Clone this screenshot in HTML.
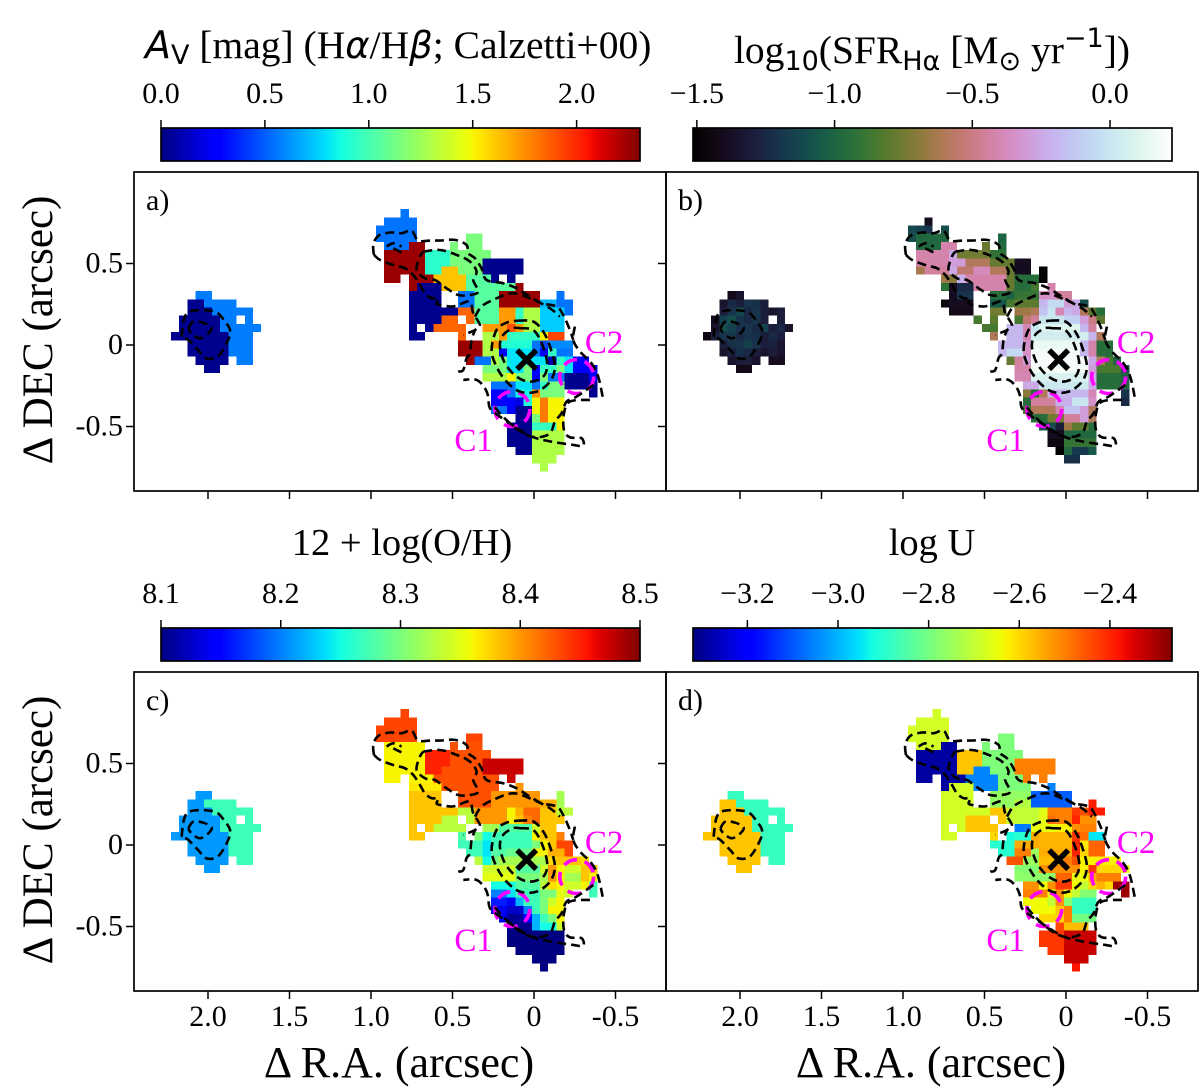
<!DOCTYPE html>
<html lang="en">
<head>
<meta charset="utf-8">
<title>Spatially resolved emission-line maps</title>
<style>
html,body{margin:0;padding:0;background:#fff;}
#figure{display:block;width:1200px;height:1090px;background:#fff;font-family:"Liberation Serif","DejaVu Serif",serif;}
.sans{font-family:"DejaVu Sans",sans-serif;}
</style>
</head>
<body>
<svg id="figure" xmlns="http://www.w3.org/2000/svg" width="1200" height="1090" viewBox="0 0 1200 1090">
<defs id="gradients"></defs>
<text x="145" y="58" font-size="39.5"><tspan class="sans" font-style="italic" font-size="38">A</tspan><tspan class="sans" font-size="27" dy="6">V</tspan><tspan dy="-6"> [mag] (H</tspan><tspan class="sans" font-style="italic" font-size="37">α</tspan><tspan>/H</tspan><tspan class="sans" font-style="italic" font-size="37">β</tspan><tspan>; Calzetti+00)</tspan></text>
<text x="932" y="63" font-size="39.5" text-anchor="middle"><tspan>log</tspan><tspan class="sans" font-size="27" dy="7">10</tspan><tspan dy="-7">(SFR</tspan><tspan class="sans" font-size="27" dy="7">Hα</tspan><tspan dy="-7"> [M</tspan><tspan class="sans" font-size="27" dy="7">⊙</tspan><tspan dy="-7"> yr</tspan><tspan class="sans" font-size="27" dy="-16">−1</tspan><tspan dy="16">])</tspan></text>
<text x="402" y="555" font-size="38.5" text-anchor="middle">12 + log(O/H)</text>
<text x="932" y="555" font-size="38.5" text-anchor="middle">log U</text>
<text x="0" y="0" font-size="43" text-anchor="middle" transform="translate(52,330) rotate(-90)">Δ DEC (arcsec)</text>
<text x="0" y="0" font-size="43" text-anchor="middle" transform="translate(52,830) rotate(-90)">Δ DEC (arcsec)</text>
<text x="399" y="1077" font-size="44" text-anchor="middle">Δ R.A. (arcsec)</text>
<text x="931" y="1077" font-size="44" text-anchor="middle">Δ R.A. (arcsec)</text>
</svg>
<script>
// ---------- axis ticks ----------
const raTicks = [2, 1.5, 1, 0.5, 0, -0.5];
const raTickLabels = ['2.0', '1.5', '1.0', '0.5', '0', '-0.5'];
const decTicks = [0.5, 0, -0.5];
const decTickLabels = ['0.5', '0', '-0.5'];

// ---------- colorbar ranges and ticks ----------
const avRange = [0, 2.305];
const avTicks = [0, 0.5, 1, 1.5, 2];
const avTickLabels = ['0.0', '0.5', '1.0', '1.5', '2.0'];
const sfrRange = [-1.514, 0.225];
const sfrTicks = [-1.5, -1, -0.5, 0];
const sfrTickLabels = ['−1.5', '−1.0', '−0.5', '0.0'];
const ohRange = [8.1, 8.5];
const ohTicks = [8.1, 8.2, 8.3, 8.4, 8.5];
const ohTickLabels = ['8.1', '8.2', '8.3', '8.4', '8.5'];
const logURange = [-3.32, -2.263];
const logUTicks = [-3.2, -3, -2.8, -2.6, -2.4];
const logUTickLabels = ['−3.2', '−3.0', '−2.8', '−2.6', '−2.4'];

// ---------- spaxel maps: each entry is [row, firstColumn, value, value, ...]; _ marks a masked spaxel ----------
const _ = null;
const avRows = [
[10,3,.57,.57],[11,2,.03,.03,.57,.57,.57,.57],[12,2,.03,.03,.03,.57,.57,.57,.57,.57],
[13,1,.03,.03,.03,.03,.03,.57,.57,_,.57],[14,1,.03,.03,.03,.03,.03,.57,.57,.57,.57,.57],
[15,0,.03,.03,.03,.03,.03,.03,.03,.57,.57,.57],[16,2,.03,.03,.03,.03,.03,.57,.57,.57],
[17,2,.03,.03,.03,.03,.03,.57,.57,.57],[18,3,.03,.03,.03,.03,_,.57,.57],[19,4,.03,.03],
[0,28,.55],[1,26,.55,.55,.55,.55],[2,25,.55,.55,.55,.55,.55],[3,25,.55,.55,.55,.55,.55],[3,36,1.15,1.15],
[4,26,.55,.55,.55,2.25,2.25],[4,34,1.15],[4,36,1.15,1.15],
[5,26,2.25,2.25,2.25,2.25,2.25,.93,.93,.93,1.15,1.15,1.15,1.15,1.15],
[6,26,2.25,2.25,2.25,2.25,2.25,.93,.93,.93,1.15,1.15,1.15,1.15,.03,.03,.03,.03,.03],
[7,26,2.25,2.25,2.25,2.25,2.25,.93,.93,1.62,1.62,1.15,1.15,1.15,.03,.03,.03,.03,.03],
[8,26,2.25,2.25],[8,29,2.25,2.25,2.25,1.62,1.62,1.62,1.62,1.05,1.05,1.05,.03],[8,41,.03],
[9,29,2.25,.03,.03,.03,1.62,1.62,1.62,1.05,1.05,1.05,1.05,1.05,1.05,2.25],
[10,29,.03,.03,.03,.03,_,_,.55,.55,1.05,1.05,1.05,2.25,2.25,2.25,2.25,2.25],[10,47,.55],
[11,29,.03,.03,.03,.03,_,_,.55,.55,1.05,1.05,1.05,2.25,2.25,2.25,2.25,2.25,.7,.7,.55,.55],
[12,29,.03,.03,.03,.03,.03,.03,1.85,1.85,1.05,1.05,1.05,1.72,1.72,.95,1.3,1.3,.75,.75,.75,.55],
[13,29,.03,.03,.03,.03,1.85,1.85,_,1.85,1.05,1.05,1.05,1.72,1.72,.95,1.3,1.3,.75,.75,.75],
[14,29,.03,_,.03,1.85,1.85,1.85,1.85,_,_,1.72,1.72,1.72,1.9,1.72,1.3,1.3,.75,.75,.75],
[15,29,.03,.03],[15,35,1.85,_,_,1.3,1.3,1.72,.95,.95,.95,.95,1.5,1.93,1.93],
[16,35,2.25,2.25,2.25,1.3,1.72,.9,.9,.9,.9,.55,.45,.6,.6,.6],
[17,35,2.25,2.25,2.25,1.3,1.3,.25,.8,.8,.8,.55,.25,.95,.55,.55],
[18,36,2.25,.55,.55,1.3,1.15,.8,.8,.8,.8,.8,.1,.95,.8,.25,.25],
[19,38,1.15,1.15,1.15,.8,.8,1.15,.25,.95,.95,1.15,.8,.25,.25,.25],
[20,38,1.3,1.3,1.3,1.5,1.15,1.15,.25,1.15,.55,.55,.03,.03,.03,.25],
[21,39,.55,.55,.55,.8,.8,.55,.95,1.15,1.15,.03,.03,.03,.03],
[22,39,.25,.25,.55,.85,.85,1.75,1.15,1.15,1.15],[22,51,.03],
[23,39,.25,.25,.25,.2,.9,1.5,1.8,1.5,1.5],
[24,39,.55,.55,.25,.03,.03,1.5,1.8,1.5,1.5],
[25,42,.03,.03,1.15,1.8,1.5,1.5],
[26,41,.03,.03,.03,.95,.95,.95,1.5],
[27,41,.03,.03,.03,1.3,1.3,1.3,1.3],[28,41,.03,.03,.03,1.3,1.3,1.3,1.3],
[29,42,.03,.03,1.3,1.3,1.3,1.3],[30,44,1.3,1.3,1.3],[31,45,1.3]
];
const sfrRows = [
[10,3,-1.42,-1.35],[11,2,-1.35,-1.25,-1.3,-1.2,-1.22,-1.3],[12,2,-1.3,-1.2,-1.12,-1.25,-1.2,-1.3,-1.35,-1.3],
[13,1,-1.4,-1.15,-1.1,-1.2,-1.25,-1.2,-1.3,_,-1.3],[14,1,-1.35,-1.1,-1.15,-1.22,-1.2,-1.25,-1.15,-1.3,-1.25,-1.35],
[15,0,-1.45,-1.3,-1.2,-1.18,-1.25,-1.2,-1.22,-1.3,-1.25,-1.3],[16,2,-1.3,-1.22,-1.2,-1.15,-1.2,-1.3,-1.28,-1.35],
[17,2,-1.35,-1.28,-1.22,-1.25,-1.3,-1.35,-1.3,-1.35],[18,3,-1.35,-1.3,-1.3,-1.35,_,-1.4,-1.4],[19,4,-1.42,-1.42],
[1,27,-1.4],[2,25,-1.12,-1.15,-1.2],[2,29,-1.1],[3,25,-1.1,-.98,-.98,-.98,-.98],[3,36,-1],
[4,26,-.98,-.98,-.98,-.42,-.42],[4,34,-.78],[4,36,-.97],
[5,26,-.42,-.42,-.42,-.42,-.25,-.75,-.75,-.75,-.75,-.92,-.92],
[6,26,-.42,-.42,-.42,-.42,-.3,-.3,-.6,-.6,-.6,-.78,-.78,-.78,-1.4,-1.4],
[7,26,-.62,-.45,-.45,-.45,-.25,-.55,-.55,-.38,-.38,-.6,-.6,-.78,-1.4,-1.4],[7,41,-1.5],
[8,29,-.65,-.7,-.22,-.42,-.42,-.42,-.42,-.42,-.78,-.95,-.95,-.95,-1.5],
[9,29,-.92,-1.4,-1.25,-1.25,-.42,-.42,-.42,-.42,-.78,-.95,-.95,-.85],[9,42,-.42],
[10,30,-1.4,-1.2,-1.2,_,_,-.95,-.95,-1,-.9,-.9,-.9,-.35,-.35,-.45,-.45],
[11,29,-1.45,-1.4,-1.4,-1.4,_,_,-1.05,-1.05,-.85,-.8,-.8,-.8,-.2,-.05,-.05,-.3,-.25,-1.1],
[12,30,-1.42,-1.42,-1.42],[12,35,-.75,-.75],[12,38,-.65,-.65,-.6,-.15,0,-.4,-.2,-.25,-.6,-.8,-.95],
[13,33,-.85,_,-.8],[13,38,-.85,-.55,-.45,0,0,0,-.1,-.1,-.3,-.5,-.8],
[14,34,-.85,-.85],[14,37,-.2,-.2,-.4,0,.1,.1,.1,.1,.1,-.2,-.45],
[15,35,-.6],[15,37,-.2,-.2,-.4,.05,.05,.05,.05,.05,.05,.05,-.2,-.6],
[16,36,-.2,-.2,-.2,-.35,.15,.15,.15,.15,.15,.15,-.2,-.42,-.95,-.95],
[17,36,-.2,-.05,-.05,-.35,.18,.18,.18,.18,.18,.18,-.2,-.42,-.95,-.95],
[18,37,-.78,-.45,-.3,.2,.2,.2,.2,.2,.2,.2,-.25,-.6,-.85,-1],
[19,38,-.42,-.42,.18,.18,.18,.18,.18,.18,.18,-.3,-.85,-.85,-.85,-1.1],
[20,38,-.4,-.4,.08,.08,.08,.08,.08,.08,.08,-.25,-.95,-.95,-.95,-1],
[21,39,-.25,-.25,.02,.02,.02,.02,.02,.02,-.25,-.95,-.95,-.95,-1],
[22,39,-.7,-.95,-.6,-.2,-.2,-.2,-.2,-.2,-.4],[22,51,-1.2],
[23,39,-.95,-.45,-.45,-.45,-.22,-.22,0,0,-.35],[23,51,-1.25],
[24,39,-.85,-.6,-.6,-.6,-.4,-.15,-.15,-.3,-.6],
[25,40,-.95,-.95,-.75,-.75,-.45,-.45,-.3,-.6],
[26,41,-1.1,-1.1,-1.3,-.65,-.8,-.8,-.95],
[27,42,-1.4,-1.4,-.98,-.98,-.98,-.98],[28,42,-1.45,-1.45,-.9,-.9,-.9,-.9],
[29,43,-1.5,-.98,-1.18,-1.18,-1.05],[30,44,-1.22,-1.22]
];
const ohRows = [
[10,3,8.21,8.21],[11,2,8.21,8.21,8.27,8.27,8.27,8.27],[12,2,8.21,8.21,8.21,8.27,8.27,8.27,8.27,8.27],
[13,1,8.21,8.21,8.21,8.21,8.21,8.27,8.27,_,8.27],[14,1,8.21,8.21,8.21,8.21,8.21,8.27,8.27,8.27,8.27,8.27],
[15,0,8.21,8.21,8.21,8.21,8.21,8.21,8.21,8.27,8.27,8.27],[16,2,8.21,8.21,8.21,8.21,8.21,8.27,8.27,8.27],
[17,2,8.21,8.21,8.21,8.21,8.21,8.27,8.27,8.27],[18,3,8.21,8.21,8.21,8.21,_,8.27,8.27],[19,4,8.21,8.21],
[0,28,8.435],[1,26,8.435,8.435,8.435,8.435],[2,25,8.435,8.435,8.435,8.435,8.435],[3,25,8.435,8.435,8.435,8.435,8.435],[3,36,8.435,8.435],
[4,26,8.36,8.36,8.36,8.36,8.36],[4,34,8.43],[4,36,8.43,8.43],
[5,26,8.36,8.36,8.36,8.36,8.36,8.45,8.45,8.45,8.43,8.43,8.43,8.43,8.43],
[6,26,8.36,8.36,8.36,8.36,8.36,8.45,8.45,8.45,8.43,8.43,8.43,8.43,8.475,8.475,8.475,8.475,8.475],
[7,26,8.36,8.36,8.36,8.36,8.36,8.45,8.45,8.43,8.43,8.43,8.43,8.43,8.475,8.475,8.475,8.475,8.475],
[8,26,8.36,8.36],[8,29,8.36,8.36,8.36,8.43,8.43,8.43,8.43,8.43,8.43,8.43,8.43],[8,41,8.475],
[9,29,8.365,8.365,8.365,8.365,8.43,8.43,8.43,8.43,8.43,8.43,8.43],[9,42,8.4],
[10,29,8.38,8.38,8.38,8.38,_,_,8.43,8.43,8.43,8.43,8.4,8.4,8.4,8.4,8.4,8.4],[10,47,8.32],
[11,29,8.38,8.38,8.38,8.38,_,_,8.43,8.43,8.43,8.43,8.4,8.4,8.4,8.4,8.4,8.4,8.39,8.39,8.32],
[12,29,8.38,8.38,8.38,8.38,8.38,8.38,8.33,8.33,8.4,8.4,8.4,8.4,8.36,8.39,8.42,8.42,8.38,8.38,8.33,8.33],
[13,29,8.38,8.38,8.38,8.38,8.33,8.33,_,8.33,8.4,8.4,8.4,8.4,8.36,8.38,8.41,8.42,8.38,8.38,8.38],
[14,29,8.38,_,8.38,8.33,8.33,8.33,8.33,_,_,8.32,8.32,8.28,8.28,8.28,8.28,8.34,8.38,8.38],
[15,29,8.38,8.38],[15,35,8.28,_,8.3,8.25,8.27,8.27,8.27,8.27,8.27,8.36,8.38,8.38,8.41],
[16,35,8.27,8.27,8.27,8.24,8.27,8.27,8.27,8.27,8.27,8.3,8.36,8.38,8.435,8.435],
[17,36,8.27,8.27,8.24,8.28,8.28,8.29,8.29,8.29,8.36,8.36,8.39,8.39,8.435],
[18,37,8.33,8.25,8.3,8.32,8.32,8.32,8.32,8.32,8.32,8.37,8.38,8.38,8.38,8.37],
[19,38,8.34,8.34,8.34,8.34,8.28,8.28,8.28,8.34,8.4,8.36,8.34,8.34,8.38,8.38],
[20,38,8.35,8.35,8.35,8.35,8.3,8.3,8.3,8.32,8.4,8.36,8.32,8.32,8.38,8.36],
[21,39,8.25,8.25,8.25,8.28,8.28,8.28,8.33,8.37,8.36,8.34,8.34,8.36,8.27],
[22,39,8.2,8.2,8.24,8.27,8.27,8.27,8.3,8.3,8.35,8.34],[22,51,8.27],
[23,39,8.16,8.16,8.14,8.22,8.27,8.27,8.3,8.34,8.36],
[24,39,8.14,8.14,8.125,8.125,8.2,8.27,8.3,8.36,8.36],
[25,40,8.14,8.105,8.11,8.15,8.22,8.27,8.3,8.36],
[26,41,8.105,8.105,8.105,8.22,8.25,8.25,8.34],
[27,41,8.1,8.1,8.1,8.1,8.1,8.1,8.1],[28,41,8.1,8.1,8.1,8.1,8.1,8.1,8.1],
[29,42,8.1,8.1,8.1,8.1,8.1,8.1],[30,44,8.1,8.1,8.1],[31,45,8.1]
];
const logURows = [
[10,3,-2.88,-2.88],[11,2,-2.58,-2.58,-2.88,-2.88,-2.88,-2.88],[12,2,-2.58,-2.58,-2.58,-2.88,-2.88,-2.88,-2.88,-2.88],
[13,1,-2.58,-2.58,-2.58,-2.58,-2.58,-2.88,-2.88,_,-2.88],[14,1,-2.58,-2.58,-2.58,-2.58,-2.58,-2.88,-2.88,-2.88,-2.88,-2.88],
[15,0,-2.58,-2.58,-2.58,-2.58,-2.58,-2.58,-2.58,-2.88,-2.88,-2.88],[16,2,-2.58,-2.58,-2.58,-2.58,-2.58,-2.88,-2.88,-2.88],
[17,2,-2.58,-2.58,-2.58,-2.58,-2.58,-2.88,-2.88,-2.88],[18,3,-2.58,-2.58,-2.58,-2.58,_,-2.88,-2.88],[19,4,-2.58,-2.58],
[0,28,-2.68],[1,26,-2.68,-2.68,-2.68,-2.68],[2,25,-2.68,-2.68,-2.68,-2.68,-2.68],[3,25,-2.68,-2.68,-2.68,-2.68,-2.68],[3,36,-2.79,-2.79],
[4,26,-2.68,-2.68,-2.68,-3.29,-3.29],[4,34,-2.79],[4,36,-2.79,-2.79],
[5,26,-3.29,-3.29,-3.29,-3.29,-3.29,-2.58,-2.58,-2.58,-2.79,-2.79,-2.79,-2.79,-2.79],
[6,26,-3.29,-3.29,-3.29,-3.29,-3.29,-2.58,-2.58,-2.58,-2.79,-2.79,-2.79,-2.79,-2.5,-2.5,-2.5,-2.5,-2.5],
[7,26,-3.29,-3.29,-3.29,-3.29,-3.29,-2.58,-2.58,-3.05,-3.05,-2.79,-2.79,-2.79,-2.5,-2.5,-2.5,-2.5,-2.5],
[8,26,-3.29,-3.29],[8,29,-3.29,-3.29,-3.29,-3.05,-3.05,-3.05,-3.05,-2.79,-2.79,-2.79,-2.5],[8,41,-2.5],
[9,29,-3.29,-2.68,-2.68,-2.68,-3.05,-3.05,-3.05,-2.79,-2.79,-2.79,-2.79],[9,42,-3.05],
[10,29,-2.68,-2.68,-2.68,-2.68,_,_,-2.76,-2.76,-2.76,-2.76,-2.76,-3.09,-3.09,-3.09,-3.09,-3.09],
[11,29,-2.68,-2.68,-2.68,-2.68,_,_,-2.76,-2.76,-2.76,-2.72,-2.72,-3.09,-3.09,-3.09,-3.09,-3.09],[11,47,-2.39],
[12,29,-2.68,-2.68,-2.68,-2.68,-2.68,-2.68,-2.58,-2.58,-2.7,-2.7,-2.7,-2.7,-2.66,-2.5,-2.5,-2.5,-2.42,-2.45,-2.39,-2.39],
[13,29,-2.68,-2.68,-2.68,-2.58,-2.58,-2.58,_,-2.58,-2.7,-2.7,-2.7,-2.7,-2.66,-2.48,-2.5,-2.5,-2.4,-2.52,-2.52],
[14,29,-2.68,_,-2.68,-2.58,-2.58,-2.58,-2.58,_,_,-3.06,-3.06,-2.65,-2.65,-2.65,-2.63,-2.63,-2.52,-2.5,-2.5],
[15,29,-2.68,-2.68],[15,35,-2.6,_,-2.92,-2.9,-2.9,-2.55,-2.56,-2.56,-2.56,-2.56,-2.42,-2.48,-2.95,-2.95],
[16,35,-2.9,-2.9,-2.9,-2.55,-2.55,-2.55,-2.56,-2.56,-2.56,-2.56,-2.4,-2.62,-2.47,-2.47],
[17,36,-2.9,-2.9,-2.5,-2.5,-2.75,-2.55,-2.55,-2.55,-2.55,-2.4,-2.6,-2.47,-2.47],
[18,37,-2.45,-2.45,-2.75,-2.75,-2.57,-2.57,-2.55,-2.5,-2.45,-2.63,-2.63,-2.63,-2.63,-2.63],
[19,38,-2.78,-2.78,-2.78,-2.52,-2.52,-2.52,-2.52,-2.52,-2.63,-2.42,-2.6,-2.6,-2.6,-2.64],
[20,38,-2.77,-2.77,-2.77,-2.77,-2.77,-2.47,-2.47,-2.65,-2.65,-2.55,-2.5,-2.5,-2.5],
[21,39,-2.52,-2.52,-2.64,-2.52,-2.42,-2.42,-2.64,-2.7,-2.6,-2.56,-2.6,-2.29,-2.29],
[22,39,-2.5,-2.5,-2.5,-2.65,-2.52,-2.64,-2.7,-2.78,-2.78],[22,51,-2.29],
[23,39,-2.64,-2.64,-2.64,-2.7,-2.52,-2.78,-2.88,-2.88,-2.88],
[24,40,-2.64,-2.64,-2.64,-2.58,-2.5,-2.88,-2.88,-2.88],
[25,41,-2.6,-2.6,-2.6,-2.5,-2.8,-2.8,-2.8],
[26,43,-2.44,-2.57,-2.57,-2.57],
[27,41,-2.42,-2.42,-2.42,-2.33,-2.33,-2.33,-2.33],[28,41,-2.42,-2.42,-2.42,-2.33,-2.33,-2.33,-2.33],
[29,42,-2.42,-2.42,-2.33,-2.33,-2.33,-2.33],[30,44,-2.33,-2.33,-2.33],[31,45,-2.38]
];

// ---------- contours in sky coordinates [RA offset, DEC offset] (arcsec) ----------
const contourNorth = [[.982,.553],[.986,.614],[.956,.669],[.884,.690],[.812,.686],[.751,.702],[.710,.641],[.628,.641],[.567,.641],[.485,.645],[.414,.614],[.403,.563],[.362,.532],[.322,.471],[.291,.399],[.189,.379],[.107,.348],[.025,.297],[-.047,.256],[-.139,.236],[-.179,.184],[-.216,.103],[-.241,.031]];
const contourEast = [[-.251,.113],[-.241,.031],[-.282,-.040],[-.353,-.112],[-.394,-.194],[-.425,-.337]];
const contourSouth = [[-.343,-.337],[-.220,-.347],[-.184,-.419],[-.184,-.521],[-.220,-.566],[-.292,-.572],[-.302,-.619],[-.241,-.613],[-.108,-.593],[.015,-.562],[.117,-.501],[.209,-.439],[.270,-.388],[.281,-.317],[.301,-.265],[.352,-.214],[.434,-.214]];
const contourWest = [[.982,.553],[.945,.522],[.864,.491],[.792,.471],[.741,.430],[.700,.369],[.669,.317],[.628,.287],[.587,.287],[.598,.256],[.577,.246],[.506,.236],[.465,.246],[.393,.266],[.373,.195],[.332,.123],[.362,.092],[.434,.062]];
const contourGap = [[.465,-.163],[.434,-.153],[.414,-.081],[.393,-.051],[.383,.031],[.362,.092]];
const contourLobe = [[.679,.573],[.577,.583],[.475,.553],[.393,.512],[.352,.450],[.373,.399],[.342,.328],[.393,.307],[.465,.307],[.536,.348],[.608,.399],[.669,.409],[.720,.461],[.700,.542],[.679,.573]];
const contourSmallA = [[.904,.604],[.863,.624],[.812,.604]];
const contourSmallB = [[.863,.593],[.802,.563]];
const contourBody = [[.362,.174],[.322,.236],[.250,.277],[.127,.317],[.005,.277],[-.098,.225],[-.159,.174]];
const contourInnerSouth = [[-.364,-.245],[-.261,-.317],[-.200,-.347],[-.169,-.419],[-.128,-.470],[-.098,-.542],[-.016,-.566],[.066,-.542],[.148,-.480],[.209,-.419],[.260,-.357]];
const contourCoreOuter = [[.097,.150],[.005,.144],[-.057,.082],[-.098,-.010],[-.128,-.133],[-.098,-.225],[-.016,-.286],[.086,-.286],[.168,-.225],[.230,-.133],[.260,-.030],[.230,.092],[.168,.137],[.097,.150]];
const contourCoreInner = [[.086,.103],[.005,.092],[-.047,.011],[-.081,-.112],[-.057,-.194],[.025,-.225],[.107,-.194],[.178,-.112],[.209,-.010],[.189,.062],[.127,.103],[.086,.103]];
const blobOuter = [[2.162,.051],[2.142,.174],[2.090,.211],[1.957,.204],[1.896,.143],[1.865,.092],[1.876,.031],[1.937,-.068],[2.009,-.082],[2.060,-.031],[2.121,.031],[2.162,.051]];
const blobInner = [[2.121,.102],[2.090,.143],[2.029,.137],[1.978,.108],[1.998,.071],[2.050,.041],[2.101,.071],[2.121,.102]];
const allContours = [contourNorth, contourEast, contourSouth, contourWest, contourGap, contourLobe, contourSmallA, contourSmallB, contourBody, contourInnerSouth, contourCoreOuter, contourCoreInner, blobOuter, blobInner];

// ---------- clumps and nucleus ----------
const clumpNames = ['C1', 'C2'];
const clumpRA = [0.133, -0.262];
const clumpDec = [-0.393, -0.194];
const clumpRadius = [0.107, 0.104];
const clumpLabelRA = [0.37, -0.43];
const clumpLabelDec = [-0.65, -0.05];
const nucleus = [0.045, -0.09];

// ---------- colormaps ----------
const jetR = [[0,0],[.35,0],[.66,1],[.89,1],[1,.5]];
const jetG = [[0,0],[.125,0],[.375,1],[.64,1],[.91,0],[1,0]];
const jetB = [[0,.5],[.11,1],[.34,1],[.65,0],[1,0]];
function piecewise(stops, t) {
  for (let i = 1; i < stops.length; i++) {
    if (t <= stops[i][0]) {
      const f = (t - stops[i - 1][0]) / (stops[i][0] - stops[i - 1][0]);
      return stops[i - 1][1] + f * (stops[i][1] - stops[i - 1][1]);
    }
  }
  return stops[stops.length - 1][1];
}
function toRgb(r, g, b) {
  const c = v => Math.round(255 * Math.max(0, Math.min(1, v)));
  return 'rgb(' + c(r) + ',' + c(g) + ',' + c(b) + ')';
}
function jet(t) {
  t = Math.max(0, Math.min(1, t));
  return toRgb(piecewise(jetR, t), piecewise(jetG, t), piecewise(jetB, t));
}
function cubehelix(t) {
  t = Math.max(0, Math.min(1, t));
  const a = t * (1 - t) / 2;
  const phi = 2 * Math.PI * (0.5 / 3 - 1.5 * t);
  const co = Math.cos(phi), si = Math.sin(phi);
  return toRgb(t + a * (-0.14861 * co + 1.78277 * si), t + a * (-0.29227 * co - 0.90649 * si), t + a * 1.97294 * co);
}

// ---------- axis functions (panel-a frame; each panel group is translated) ----------
const arcsecPx = 163;
const spaxelArcsec = 8.2 / 163;
const firstColRA = 2.227;
const firstRowDec = 0.834;
function xScale(ra) { return 534 - arcsecPx * ra; }
function yScale(dec) { return 345 - arcsecPx * dec; }
function colRA(k) { return firstColRA - k * spaxelArcsec; }
function rowDec(j) { return firstRowDec - j * spaxelArcsec; }

const NS = 'http://www.w3.org/2000/svg';
const figure = document.getElementById('figure');
const gradients = document.getElementById('gradients');
function make(tag, parent, attrs) {
  const el = document.createElementNS(NS, tag);
  for (const key in attrs) el.setAttribute(key, attrs[key]);
  parent.appendChild(el);
  return el;
}
function smoothPath(points) {
  const p = points.map(q => [xScale(q[0]), yScale(q[1])]);
  let d = 'M' + p[0][0].toFixed(1) + ' ' + p[0][1].toFixed(1);
  for (let i = 0; i < p.length - 1; i++) {
    const p0 = p[Math.max(0, i - 1)], p1 = p[i], p2 = p[i + 1], p3 = p[Math.min(p.length - 1, i + 2)];
    const c1x = p1[0] + (p2[0] - p0[0]) / 6, c1y = p1[1] + (p2[1] - p0[1]) / 6;
    const c2x = p2[0] - (p3[0] - p1[0]) / 6, c2y = p2[1] - (p3[1] - p1[1]) / 6;
    d += 'C' + c1x.toFixed(1) + ' ' + c1y.toFixed(1) + ' ' + c2x.toFixed(1) + ' ' + c2y.toFixed(1) + ' ' + p2[0].toFixed(1) + ' ' + p2[1].toFixed(1);
  }
  return d;
}

function drawPanel(cfg) {
  const panel = make('g', figure, { transform: 'translate(' + cfg.dx + ',' + cfg.dy + ')' });
  
  
  const cells = make('g', panel, { 'shape-rendering': 'crispEdges' });
  
  
  const span = cfg.range[1] - cfg.range[0];
  cfg.rows.forEach(row => {
    const j = row[0], first = row[1];
    row.slice(2).forEach((v, idx) => {
      if (v === null) return;
      const k = first + idx;
      const x0 = xScale(colRA(k)), x1 = xScale(colRA(k + 1));
      const y0 = yScale(rowDec(j)), y1 = yScale(rowDec(j + 1));
      const cell = make('rect', cells, { x: x0.toFixed(2), y: y0.toFixed(2), width: (x1 - x0).toFixed(2), height: (y1 - y0).toFixed(2), fill: cfg.cmap((v - cfg.range[0]) / span) });
      
      
    });
  });
  clumpNames.forEach((name, i) => {
    const ring = make('circle', panel, { cx: xScale(clumpRA[i]), cy: yScale(clumpDec[i]), r: clumpRadius[i] * arcsecPx, fill: 'none', stroke: '#ff00ff', 'stroke-width': 3.6, 'stroke-dasharray': '14 8' });
    
    
    const label = make('text', panel, { x: xScale(clumpLabelRA[i]), y: yScale(clumpLabelDec[i]), 'font-size': 33, fill: '#ff00ff', 'text-anchor': 'middle' });
    label.textContent = name;
    
    
  });
  allContours.forEach(points => {
    const path = make('path', panel, { d: smoothPath(points), fill: 'none', stroke: '#000', 'stroke-width': 2.6, 'stroke-dasharray': '9 5' });
    
    
  });
  const nx = xScale(nucleus[0]), ny = yScale(nucleus[1]);
  const cross = make('path', panel, { d: 'M' + (nx - 9.5) + ' ' + (ny - 9.5) + 'L' + (nx + 9.5) + ' ' + (ny + 9.5) + 'M' + (nx - 9.5) + ' ' + (ny + 9.5) + 'L' + (nx + 9.5) + ' ' + (ny - 9.5), stroke: '#000', 'stroke-width': 5.5, fill: 'none' });
  
  
  const frame = make('rect', panel, { x: 134, y: 172, width: 532, height: 319, fill: 'none', stroke: '#000', 'stroke-width': 1.7 });
  
  
  raTicks.forEach((t, i) => {
    const tx = xScale(t);
    const tick = make('line', panel, { x1: tx, x2: tx, y1: 491, y2: 499, stroke: '#000', 'stroke-width': 1.5 });
    
    
    if (cfg.xLabels) {
      const label = make('text', panel, { x: tx, y: 526, 'font-size': 30, 'text-anchor': 'middle' });
      label.textContent = raTickLabels[i];
      
      
    }
  });
  decTicks.forEach((t, i) => {
    const ty = yScale(t);
    const tick = make('line', panel, { x1: 126, x2: 134, y1: ty, y2: ty, stroke: '#000', 'stroke-width': 1.5 });
    
    
    if (cfg.yLabels) {
      const label = make('text', panel, { x: 123, y: ty + 9, 'font-size': 30, 'text-anchor': 'end' });
      label.textContent = decTickLabels[i];
      
      
    }
  });
  const letter = make('text', panel, { x: 146, y: 210, 'font-size': 30 });
  letter.textContent = cfg.letter + ')';
  
  
}

function drawColorbar(cfg) {
  const bar = make('g', figure, {});
  
  
  const grad = make('linearGradient', gradients, { id: cfg.name + '-gradient', x1: 0, x2: 1, y1: 0, y2: 0 });
  for (let i = 0; i <= 64; i++) {
    make('stop', grad, { offset: i / 64, 'stop-color': cfg.cmap(i / 64) });
  }
  const scale = v => cfg.x + (v - cfg.range[0]) / (cfg.range[1] - cfg.range[0]) * cfg.width;
  const strip = make('rect', bar, { x: cfg.x, y: cfg.y, width: cfg.width, height: 33, fill: 'url(#' + cfg.name + '-gradient)', stroke: '#000', 'stroke-width': 1.7 });
  
  
  cfg.ticks.forEach((t, i) => {
    const tx = scale(t);
    const tick = make('line', bar, { x1: tx, x2: tx, y1: cfg.y - 8, y2: cfg.y, stroke: '#000', 'stroke-width': 1.5 });
    
    
    const label = make('text', bar, { x: tx, y: cfg.y - 25, 'font-size': 30, 'text-anchor': 'middle' });
    label.textContent = cfg.labels[i];
    
    
  });
}

drawPanel({ letter: 'a', dx: 0, dy: 0, rows: avRows, range: avRange, cmap: jet, xLabels: false, yLabels: true });
drawPanel({ letter: 'b', dx: 532, dy: 0, rows: sfrRows, range: sfrRange, cmap: cubehelix, xLabels: false, yLabels: false });
drawPanel({ letter: 'c', dx: 0, dy: 500, rows: ohRows, range: ohRange, cmap: jet, xLabels: true, yLabels: true });
drawPanel({ letter: 'd', dx: 532, dy: 500, rows: logURows, range: logURange, cmap: jet, xLabels: true, yLabels: false });
drawColorbar({ name: 'av-colorbar', x: 161, y: 128, width: 479, range: avRange, ticks: avTicks, labels: avTickLabels, cmap: jet });
drawColorbar({ name: 'sfr-colorbar', x: 693, y: 128, width: 479, range: sfrRange, ticks: sfrTicks, labels: sfrTickLabels, cmap: cubehelix });
drawColorbar({ name: 'metallicity-colorbar', x: 161, y: 628, width: 479, range: ohRange, ticks: ohTicks, labels: ohTickLabels, cmap: jet });
drawColorbar({ name: 'ionisation-colorbar', x: 693, y: 628, width: 479, range: logURange, ticks: logUTicks, labels: logUTickLabels, cmap: jet });
</script>
</body>
</html>
